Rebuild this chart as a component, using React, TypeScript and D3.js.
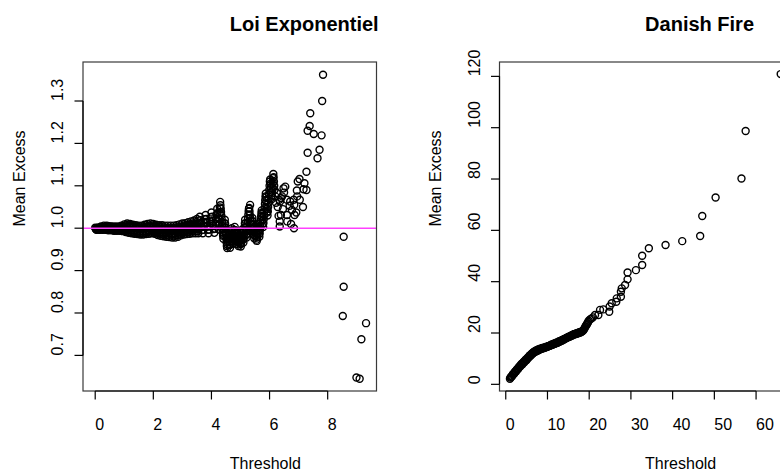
import React from 'react';
import * as d3 from 'd3';

// ---------- Data: Loi Exponentiel (threshold, mean excess) ----------
const expDense: [number, number][] = [
  [0,1.001],[0.025,0.998],[0.05,0.996],[0.075,0.999],
  [0.1,1.002],[0.125,0.998],[0.15,0.996],[0.175,1.000],
  [0.2,1.004],[0.225,0.999],[0.25,0.996],[0.275,1.001],
  [0.3,1.006],[0.325,0.999],[0.35,0.996],[0.375,1.003],
  [0.4,1.006],[0.425,0.999],[0.45,0.995],[0.475,1.002],
  [0.5,1.005],[0.525,0.998],[0.55,0.995],[0.575,1.002],
  [0.6,1.004],[0.625,0.997],[0.65,0.994],[0.675,1.001],
  [0.7,1.004],[0.725,0.997],[0.75,0.994],[0.775,1.001],
  [0.8,1.004],[0.825,0.997],[0.85,0.994],[0.875,1.001],
  [0.9,1.006],[0.925,0.997],[0.95,0.993],[0.975,1.002],
  [1.0,1.009],[1.025,0.997],[1.05,0.991],[1.075,1.003],
  [1.1,1.011],[1.125,0.996],[1.15,0.989],[1.175,1.004],
  [1.2,1.010],[1.225,0.995],[1.25,0.988],[1.275,1.003],
  [1.3,1.008],[1.325,0.994],[1.35,0.987],[1.375,1.001],
  [1.4,1.007],[1.425,0.993],[1.45,0.986],[1.475,1.000],
  [1.5,1.006],[1.525,0.992],[1.55,0.985],[1.575,0.999],
  [1.6,1.006],[1.625,0.992],[1.65,0.985],[1.675,0.999],
  [1.7,1.008],[1.725,0.993],[1.75,0.986],[1.775,1.001],
  [1.8,1.010],[1.825,0.995],[1.85,0.987],[1.875,1.002],
  [1.9,1.011],[1.925,0.996],[1.95,0.988],[1.975,1.003],
  [2.0,1.010],[2.025,0.995],[2.05,0.987],[2.075,1.002],
  [2.1,1.008],[2.125,0.992],[2.15,0.984],[2.175,1.000],
  [2.2,1.007],[2.225,0.990],[2.25,0.982],[2.275,0.999],
  [2.3,1.007],[2.325,0.990],[2.35,0.981],[2.375,0.998],
  [2.4,1.006],[2.425,0.989],[2.45,0.980],[2.475,0.997],
  [2.5,1.006],[2.525,0.988],[2.55,0.979],[2.575,0.997],
  [2.6,1.006],[2.625,0.987],[2.65,0.978],[2.675,0.997],
  [2.7,1.006],[2.725,0.987],[2.75,0.978],[2.775,0.997],
  [2.8,1.007],[2.825,0.989],[2.85,0.980],[2.875,0.998],
  [2.9,1.009],[2.925,0.992],[2.95,0.983],[2.975,1.000],
  [3.0,1.011],[3.025,0.994],[3.05,0.985],[3.075,1.002],
  [3.1,1.012],[3.125,0.995],[3.15,0.986],[3.175,1.003],
  [3.2,1.014],[3.225,0.996],[3.25,0.987],[3.275,1.005],
  [3.3,1.016],[3.325,0.997],[3.35,0.988],[3.375,1.007],
  [3.4,1.018],[3.425,0.998],[3.45,0.988],[3.475,1.008],
  [3.5,1.022],[3.525,0.999],[3.55,0.988],[3.575,1.011],
  [3.60,1.027],[3.62,1.019],[3.64,1.011],[3.66,1.003],[3.68,0.996],[3.70,0.988],
  [3.72,0.996],[3.74,1.004],[3.76,1.012],[3.78,1.021],[3.80,1.031],[3.82,1.022],
  [3.84,1.013],[3.86,1.004],[3.88,0.996],[3.90,0.988],[3.92,0.997],[3.94,1.006],
  [3.96,1.016],[3.98,1.026],[4.00,1.037],[4.02,1.027],[4.04,1.017],[4.06,1.007],
  [4.08,0.998],[4.10,0.989],[4.12,0.999],[4.14,1.010],[4.16,1.021],[4.18,1.033],
  [4.20,1.046],[4.21,1.036],[4.22,1.026],[4.23,1.016],[4.24,1.006],[4.25,0.997],
  [4.26,1.010],[4.27,1.023],[4.28,1.036],[4.29,1.049],[4.30,1.062],[4.31,1.054],
  [4.32,1.046],[4.33,1.038],[4.34,1.030],[4.35,1.022],[4.36,1.014],[4.37,1.006],
  [4.38,0.998],[4.39,0.990],[4.40,0.982],[4.41,0.975],[4.42,0.984],[4.43,0.993],
  [4.44,1.002],[4.45,1.011],[4.46,1.020],[4.47,1.011],[4.48,1.002],[4.49,0.993],
  [4.50,0.984],[4.51,0.975],[4.52,0.966],[4.53,0.958],[4.54,0.953],[4.55,0.961],
  [4.56,0.969],[4.57,0.977],[4.58,0.985],[4.59,0.992],[4.60,0.984],[4.61,0.976],
  [4.62,0.968],[4.63,0.960],[4.64,0.954],[4.65,0.962],[4.66,0.970],[4.67,0.978],
  [4.68,0.986],[4.69,0.994],[4.70,1.000],[4.71,0.992],[4.72,0.984],[4.73,0.976],
  [4.74,0.968],[4.75,0.964],[4.76,0.972],[4.77,0.980],[4.78,0.988],[4.79,0.996],
  [4.80,1.003],[4.81,0.995],[4.82,0.987],[4.83,0.979],[4.84,0.971],[4.85,0.963],
  [4.86,0.970],[4.87,0.978],[4.88,0.986],[4.89,0.990],[4.90,0.982],[4.91,0.974],
  [4.92,0.966],[4.93,0.958],[4.94,0.966],[4.95,0.974],[4.96,0.982],[4.97,0.986],
  [4.98,0.978],[4.99,0.970],[5.00,0.962],[5.01,0.957],[5.02,0.965],[5.03,0.973],
  [5.04,0.981],[5.05,0.989],[5.06,0.997],[5.07,0.989],[5.08,0.981],[5.09,0.973],
  [5.10,0.966],[5.11,0.975],[5.12,0.984],[5.13,0.993],[5.14,1.002],[5.15,1.011],
  [5.16,1.020],[5.17,1.011],[5.18,1.002],[5.19,0.993],[5.20,0.984],[5.21,0.978],
  [5.22,0.987],[5.23,0.996],[5.24,1.005],[5.25,1.014],[5.26,1.023],[5.27,1.032],
  [5.28,1.040],[5.29,1.046],[5.30,1.048],[5.31,1.040],[5.32,1.032],[5.33,1.024],
  [5.34,1.016],[5.35,1.008],[5.36,1.000],[5.37,0.993],[5.38,1.001],[5.39,1.009],
  [5.40,1.017],[5.41,1.024],[5.42,1.016],[5.43,1.008],[5.44,1.000],[5.45,0.992],
  [5.46,0.984],[5.47,0.976],[5.48,0.984],[5.49,0.992],[5.50,1.000],[5.51,1.005],
  [5.52,0.997],[5.53,0.989],[5.54,0.981],[5.55,0.973],[5.56,0.970],[5.57,0.978],
  [5.58,0.986],[5.59,0.994],[5.60,1.002],[5.61,1.010],[5.62,1.002],[5.63,0.994],
  [5.64,0.986],[5.65,0.980],[5.66,0.988],[5.67,0.996],[5.68,1.004],[5.69,1.012],
  [5.70,1.020],[5.71,1.028],[5.72,1.036],[5.73,1.042],[5.74,1.034],[5.75,1.026],
  [5.76,1.018],[5.77,1.010],[5.78,1.003],[5.79,1.012],[5.80,1.021],[5.81,1.030],
  [5.82,1.039],[5.83,1.048],[5.84,1.057],[5.85,1.066],[5.86,1.075],[5.87,1.082],
  [5.88,1.073],[5.89,1.064],[5.90,1.055],[5.91,1.046],[5.92,1.037],[5.93,1.030],
  [5.94,1.040],[5.95,1.050],[5.96,1.060],[5.97,1.070],[5.98,1.080],[5.99,1.090],
  [6.00,1.100],[6.01,1.110],[6.02,1.115],[6.03,1.105],[6.04,1.095],[6.05,1.085],
  [6.06,1.075],[6.07,1.068],[6.08,1.078],[6.09,1.088],[6.10,1.098],[6.11,1.108],
  [6.12,1.118],[6.13,1.128],[6.14,1.120],[6.15,1.110],[6.16,1.100],[6.17,1.090],
];

// second pass of band points read between the first ones (the band is solid in the picture)
const expDenseFill: [number, number][] = [
  [0.0125,0.999],[0.0375,0.997],[0.0625,0.998],[0.0875,1.000],
  [0.1125,1.000],[0.1375,0.997],[0.1625,0.998],[0.1875,1.001],
  [0.2125,1.002],[0.2375,0.997],[0.2625,0.999],[0.2875,1.003],
  [0.3125,1.003],[0.3375,0.997],[0.3625,1.000],[0.3875,1.004],
  [0.4125,1.002],[0.4375,0.997],[0.4625,0.999],[0.4875,1.003],
  [0.5125,1.001],[0.5375,0.996],[0.5625,0.998],[0.5875,1.003],
  [0.6125,1.000],[0.6375,0.995],[0.6625,0.997],[0.6875,1.002],
  [0.7125,1.000],[0.7375,0.995],[0.7625,0.997],[0.7875,1.002],
  [0.8125,1.000],[0.8375,0.995],[0.8625,0.997],[0.8875,1.003],
  [0.9125,1.001],[0.9375,0.995],[0.9625,0.997],[0.9875,1.005],
  [1.0125,1.003],[1.0375,0.994],[1.0625,0.997],[1.0875,1.007],
  [1.1125,1.003],[1.1375,0.992],[1.1625,0.996],[1.1875,1.007],
  [1.2125,1.002],[1.2375,0.991],[1.2625,0.995],[1.2875,1.005],
  [1.3125,1.001],[1.3375,0.990],[1.3625,0.994],[1.3875,1.004],
  [1.4125,1.000],[1.4375,0.989],[1.4625,0.993],[1.4875,1.003],
  [1.5125,0.999],[1.5375,0.988],[1.5625,0.992],[1.5875,1.002],
  [1.6125,0.999],[1.6375,0.988],[1.6625,0.992],[1.6875,1.003],
  [1.7125,1.000],[1.7375,0.989],[1.7625,0.993],[1.7875,1.005],
  [1.8125,1.002],[1.8375,0.991],[1.8625,0.995],[1.8875,1.006],
  [1.9125,1.003],[1.9375,0.992],[1.9625,0.996],[1.9875,1.006],
  [2.0125,1.002],[2.0375,0.991],[2.0625,0.994],[2.0875,1.005],
  [2.1125,1.000],[2.1375,0.988],[2.1625,0.992],[2.1875,1.003],
  [2.2125,0.998],[2.2375,0.986],[2.2625,0.990],[2.2875,1.003],
  [2.3125,0.998],[2.3375,0.985],[2.3625,0.989],[2.3875,1.002],
  [2.4125,0.997],[2.4375,0.984],[2.4625,0.988],[2.4875,1.001],
  [2.5125,0.997],[2.5375,0.983],[2.5625,0.988],[2.5875,1.001],
  [2.6125,0.996],[2.6375,0.982],[2.6625,0.987],[2.6875,1.001],
  [2.7125,0.996],[2.7375,0.982],[2.7625,0.987],[2.7875,1.002],
  [2.8125,0.998],[2.8375,0.984],[2.8625,0.989],[2.8875,1.003],
  [2.9125,1.000],[2.9375,0.987],[2.9625,0.991],[2.9875,1.005],
  [3.0125,1.002],[3.0375,0.989],[3.0625,0.993],[3.0875,1.007],
  [3.1125,1.003],[3.1375,0.990],[3.1625,0.994],[3.1875,1.008],
  [3.2125,1.005],[3.2375,0.991],[3.2625,0.996],[3.2875,1.010],
  [3.3125,1.006],[3.3375,0.992],[3.3625,0.997],[3.3875,1.012],
  [3.4125,1.008],[3.4375,0.993],[3.4625,0.998],[3.4875,1.015],
  [3.5125,1.010],[3.5375,0.993],[3.5625,0.999],[3.5875,1.019],
];

const expSparse: [number, number][] = [
  [5.33,1.055],[6.20,1.075],[6.22,1.060],[6.25,1.083],[6.28,1.050],[6.31,1.029],
  [6.33,1.067],[6.35,1.004],[6.35,1.016],[6.36,1.063],[6.39,1.031],[6.40,1.071],
  [6.43,1.075],[6.46,1.045],[6.48,1.094],[6.50,1.084],[6.54,1.098],[6.60,1.067],
  [6.60,1.031],[6.61,1.016],[6.69,1.053],[6.71,1.063],[6.74,1.010],[6.77,1.043],
  [6.83,1.067],[6.84,1.000],[6.85,1.055],[6.86,1.031],[6.92,1.037],[6.94,1.089],
  [6.95,1.075],[6.97,1.110],[7.03,1.116],[7.04,1.067],[7.15,1.050],[7.17,1.092],
  [7.20,1.106],[7.27,1.090],[7.27,1.133],[7.31,1.178],[7.31,1.230],[7.38,1.241],
  [7.40,1.271],[7.52,1.222],[7.65,1.165],[7.72,1.185],[7.79,1.219],[7.81,1.300],
  [7.84,1.362],[8.52,0.793],[8.55,0.980],[8.55,0.862],[8.99,0.648],[9.10,0.645],
  [9.16,0.738],[9.32,0.776],
];

// ---------- Data: Danish Fire (threshold, mean excess) ----------
const danishPoints: [number, number][] = [
  [1.00,2.2],[1.25,2.9],[1.50,3.1],[1.75,4.0],[2.00,4.1],[2.25,5.0],[2.50,5.1],
  [2.75,6.0],[3.00,6.1],[3.25,7.0],[3.50,7.0],[3.75,7.9],[4.00,7.8],[4.25,8.7],
  [4.50,8.7],[4.75,9.6],[5.00,9.5],[5.25,10.4],[5.50,10.4],[5.75,11.3],[6.00,11.2],
  [6.25,12.0],[6.50,12.0],[6.75,12.7],[7.00,12.6],[7.25,13.2],[7.50,13.0],[7.75,13.6],
  [8.00,13.4],[8.25,13.9],[8.50,13.8],[8.75,14.2],[9.00,14.0],[9.25,14.4],[9.50,14.3],
  [9.75,14.7],[10.0,14.6],[10.3,15.0],[10.6,15.0],[10.9,15.4],[11.2,15.4],[11.5,15.8],
  [11.8,15.8],[12.1,16.2],[12.4,16.2],[12.7,16.7],[13.0,16.7],[13.3,17.1],[13.6,17.2],
  [13.9,17.6],[14.2,17.7],[14.5,18.1],[14.8,18.2],[15.1,18.6],[15.4,18.6],[15.7,19.0],
  [16.0,19.1],[16.3,19.5],[16.6,19.5],[16.9,19.8],[17.2,19.8],[17.5,20.2],[17.8,20.2],
  [18.1,20.5],[18.4,20.8],[18.7,21.3],[19.0,22.2],[19.3,23.0],[19.6,23.8],[19.9,24.8],
  [20.2,25.3],[20.5,25.6],[20.9,26.1],[21.4,27.0],[22.2,27.0],[22.6,29.0],[23.4,29.2],
  [24.8,28.3],[24.9,30.3],[25.4,31.6],[26.5,32.2],[26.6,33.5],[27.6,34.1],[27.6,36.1],
  [27.8,37.4],[28.6,38.7],[29.2,40.9],[29.2,43.6],[31.2,44.5],[32.7,46.5],[32.7,50.1],
  [34.3,53.0],[38.3,54.3],[42.3,55.8],[46.6,57.8],[47.1,65.6],[50.3,72.8],[56.5,80.2],
  [57.5,98.7],[65.9,120.9],
];

// further Danish thresholds in the dense lower part of the curve
const danishDenseFill: [number, number][] = [
  [1.125,2.6],[1.375,3.0],[1.625,3.6],[1.875,4.0],[2.125,4.6],[2.375,5.0],[2.625,5.6],
  [2.875,6.0],[3.125,6.6],[3.375,7.0],[3.625,7.5],[3.875,7.8],[4.125,8.3],[4.375,8.7],
  [4.625,9.2],[4.875,9.5],[5.125,10.0],[5.375,10.4],[5.625,10.9],[5.875,11.2],[6.125,11.6],
  [6.375,12.0],[6.625,12.4],[6.875,12.6],[7.125,12.9],[7.375,13.1],[7.625,13.3],[7.875,13.5],
  [8.125,13.7],[8.375,13.8],[8.625,14.0],[8.875,14.1],[9.125,14.2],[9.375,14.3],[9.625,14.5],
  [9.875,14.6],[10.15,14.8],[10.45,15.0],[10.75,15.2],[11.05,15.4],[11.35,15.6],[11.65,15.8],
  [11.95,16.0],[12.25,16.2],[12.55,16.4],[12.85,16.7],[13.15,16.9],[13.45,17.1],[13.75,17.4],
  [14.05,17.6],[14.35,17.9],[14.65,18.1],[14.95,18.4],[15.25,18.6],[15.55,18.8],[15.85,19.0],
  [16.15,19.3],[16.45,19.5],[16.75,19.7],[17.05,19.8],[17.35,20.0],[17.65,20.2],[17.95,20.3],
  [18.25,20.6],[18.55,21.0],[18.85,21.7],[19.15,22.6],[19.45,23.4],[19.75,24.3],
];

// ---------- Axes ----------
const expXTicks = [0, 2, 4, 6, 8];
const expYTicks = [0.7, 0.8, 0.9, 1.0, 1.1, 1.2, 1.3];
const danishXTicks = [0, 10, 20, 30, 40, 50, 60];
const danishYTicks = [0, 20, 40, 60, 80, 100, 120];
const expXLimits: [number, number] = [-0.42, 9.68];
const expYLimits: [number, number] = [0.616, 1.392];
const danishXLimits: [number, number] = [-1.5, 68.3];
const danishYLimits: [number, number] = [-2.6, 125.6];
const expReference = 1.0;

const FONT = '"Liberation Sans", Arial, Helvetica, sans-serif';

type Box = { left: number; right: number; top: number; bottom: number };

function Panel(props: {
  points: [number, number][];
  xDomain: [number, number];
  yDomain: [number, number];
  box: Box;
  xTicks: number[];
  yTicks: number[];
  fmtY: (v: number) => string;
  title: string;
  hline?: number;
}) {
  const { points, xDomain, yDomain, box, xTicks, yTicks, fmtY, title, hline } = props;
  const x = d3.scaleLinear().domain(xDomain).range([box.left, box.right]);
  const y = d3.scaleLinear().domain(yDomain).range([box.bottom, box.top]);
  const cx = (box.left + box.right) / 2;
  const cy = (box.top + box.bottom) / 2;
  const tick = 8.5;
  return (
    <g fontFamily={FONT}>
      {points.map((p, i) => (
        <circle key={i} cx={x(p[0])} cy={y(p[1])} r={3.5} fill="none" stroke="#000" strokeWidth={1.4} />
      ))}
      {hline !== undefined && (
        <line x1={box.left} x2={box.right} y1={y(hline)} y2={y(hline)} stroke="#ff40ff" strokeWidth={1.6} />
      )}
      <rect x={box.left} y={box.top} width={box.right - box.left} height={box.bottom - box.top}
        fill="none" stroke="#3a3a3a" strokeWidth={1.2} />
      <line x1={x(xTicks[0])} x2={x(xTicks[xTicks.length - 1])} y1={box.bottom} y2={box.bottom} stroke="#000" strokeWidth={1.2} />
      {xTicks.map((t) => (
        <g key={'x' + t}>
          <line x1={x(t)} x2={x(t)} y1={box.bottom} y2={box.bottom + tick} stroke="#000" strokeWidth={1.2} />
          <text x={x(t)} y={box.bottom + 39} fontSize={16} fill="#000">{t}</text>
        </g>
      ))}
      <line x1={box.left} x2={box.left} y1={y(yTicks[0])} y2={y(yTicks[yTicks.length - 1])} stroke="#000" strokeWidth={1.2} />
      {yTicks.map((t) => (
        <g key={'y' + t}>
          <line x1={box.left - tick} x2={box.left} y1={y(t)} y2={y(t)} stroke="#000" strokeWidth={1.2} />
          <text transform={`translate(${box.left - 20},${y(t)}) rotate(-90)`} fontSize={16} fill="#000">{fmtY(t)}</text>
        </g>
      ))}
      <text x={cx} y={box.top - 31.3} fontSize={20} fontWeight="bold" fill="#000">{title}</text>
      <text x={cx} y={box.bottom + 78} fontSize={16} fill="#000">Threshold</text>
      <text transform={`translate(${box.left - 58.5},${cy}) rotate(-90)`} fontSize={16} fill="#000">Mean Excess</text>
    </g>
  );
}

export default function App() {
  const expPoints = [...expDense, ...expDenseFill, ...expSparse];
  const danish = [...danishPoints, ...danishDenseFill];
  return (
    <svg width={780} height={471} style={{ position: 'absolute', left: 0, top: 0, display: 'block', background: '#fff' }}>
      <rect x={0} y={0} width={780} height={471} fill="#fff" />
      <Panel
        points={expPoints}
        xDomain={expXLimits}
        yDomain={expYLimits}
        box={{ left: 83, right: 376.5, top: 62, bottom: 391 }}
        xTicks={expXTicks}
        yTicks={expYTicks}
        fmtY={d3.format('.1f')}
        title="Loi Exponentiel"
        hline={expReference}
      />
      <Panel
        points={danish}
        xDomain={danishXLimits}
        yDomain={danishYLimits}
        box={{ left: 499.5, right: 790.7, top: 62, bottom: 391 }}
        xTicks={danishXTicks}
        yTicks={danishYTicks}
        fmtY={d3.format('d')}
        title="Danish Fire"
      />
    </svg>
  );
}
